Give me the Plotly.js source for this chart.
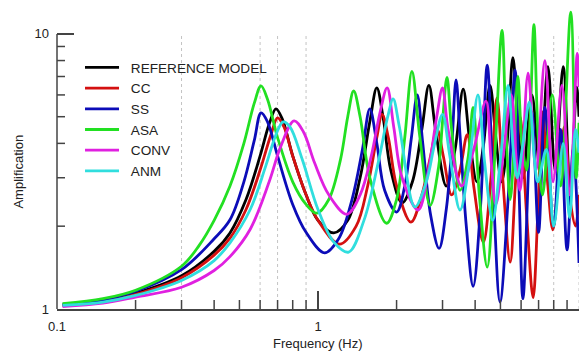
<!DOCTYPE html>
<html>
<head>
<meta charset="utf-8">
<script src="https://cdn.plot.ly/plotly-3.0.1.min.js"></script>
<style>html,body{margin:0;padding:0;background:#fff;}#chart{width:586px;height:352px;}</style>
</head>
<body>
<div id="chart"></div>
<script>
// Series names
const seriesNames = ['REFERENCE MODEL', 'CC', 'SS', 'ASA', 'CONV', 'ANM'];

// REFERENCE MODEL
const fBlack = [0.105,0.15,0.2,0.3,0.4,0.46,0.53,0.6,0.65,0.69,0.73,0.8,0.9,1.0,1.15,1.3,1.45,1.58,1.68,1.78,1.9,2.1,2.3,2.5,2.66,2.82,3.1,3.35,3.6,3.8,4.06,4.3,4.56,4.8,5.05,5.3,5.58,5.85,6.1,6.6,7.1,7.6,8.1,8.7,9.25,9.8,10];
const aBlack = [1.03,1.07,1.14,1.32,1.62,1.89,2.5,3.6,4.7,5.34,4.9,3.6,2.6,2.1,1.89,2.1,3.0,4.8,6.36,4.9,3.2,2.43,2.9,4.5,6.5,4.5,2.8,3.8,6.3,4.2,2.9,3.9,6.5,4.2,2.9,4.0,8.2,4.5,3.0,6.0,3.2,7.6,3.2,7.6,2.7,6.4,5.0];

// CC
const fRed = [0.105,0.15,0.2,0.3,0.4,0.46,0.53,0.6,0.66,0.70,0.74,0.8,0.9,1.0,1.21,1.4,1.55,1.68,1.76,1.86,2.0,2.27,2.5,2.7,2.86,3.02,3.25,3.5,3.73,3.95,4.3,4.6,4.85,5.1,5.45,5.7,5.95,6.3,6.67,6.95,7.25,7.6,7.94,8.4,8.8,9.3,9.7,10];
const aRed = [1.03,1.065,1.13,1.30,1.57,1.81,2.3,3.2,4.3,4.95,4.6,3.6,2.6,2.1,1.72,2.0,2.8,4.2,5.1,4.2,2.8,2.07,2.6,3.6,4.5,3.6,2.6,3.2,4.3,2.8,1.75,3.0,5.85,3.0,1.48,2.8,5.0,2.2,1.1,2.2,5.2,2.8,1.94,3.2,4.6,2.4,2.0,2.6];

// SS
const fBlue = [0.105,0.15,0.2,0.3,0.4,0.46,0.52,0.57,0.605,0.64,0.7,0.8,0.9,1.06,1.2,1.35,1.48,1.58,1.68,1.8,2.0,2.15,2.28,2.4,2.52,2.7,2.91,3.1,3.25,3.38,3.5,3.7,3.93,4.2,4.45,4.7,4.98,5.35,5.69,5.9,6.1,6.6,7.0,7.4,8.0,8.5,9.0,9.5,10];
const aBlue = [1.04,1.08,1.16,1.39,1.8,2.11,2.9,4.1,5.16,4.8,3.6,2.4,1.9,1.6,1.8,2.5,3.8,5.34,4.0,2.7,2.25,2.8,4.2,6.0,4.0,2.2,1.66,2.3,3.8,6.8,4.3,2.0,1.21,2.4,7.7,2.6,1.06,2.5,7.4,2.6,1.09,5.2,1.9,5.4,2.0,4.5,1.64,3.8,1.47];

// ASA
const fGreen = [0.105,0.15,0.2,0.3,0.35,0.4,0.46,0.52,0.57,0.605,0.64,0.7,0.8,0.9,0.99,1.1,1.22,1.3,1.37,1.45,1.58,1.83,2.0,2.15,2.29,2.45,2.69,2.9,3.0,3.12,3.25,3.5,3.75,3.93,4.15,4.45,4.75,5.07,5.25,5.45,5.65,5.83,6.05,6.3,6.5,6.72,6.95,7.25,7.9,8.5,9.3,9.75,10];
const aGreen = [1.045,1.09,1.17,1.43,1.7,2.1,2.8,4.0,5.6,6.47,5.8,4.2,2.9,2.4,2.23,2.5,3.5,5.0,6.2,5.0,3.0,2.05,2.5,4.2,7.3,4.3,2.38,3.3,4.8,6.95,4.5,2.7,3.5,5.4,2.6,1.42,3.5,10.3,4.5,2.5,4.0,7.0,4.0,3.2,5.0,10.8,4.5,2.6,6.0,2.8,12.0,3.0,4.75];

// CONV
const fMag = [0.105,0.15,0.2,0.3,0.4,0.46,0.55,0.65,0.72,0.81,0.88,0.97,1.1,1.29,1.45,1.6,1.73,1.84,1.95,2.1,2.42,2.65,2.85,3.0,3.15,3.55,3.95,4.4,4.6,4.8,5.1,5.5,5.75,5.95,6.38,6.85,7.4,7.95,8.6,9.2,9.85,10];
const aMag = [1.02,1.05,1.105,1.2,1.38,1.55,1.95,2.9,3.9,4.83,4.4,3.4,2.6,2.21,2.6,3.6,5.2,6.36,4.6,3.0,2.29,3.2,5.0,6.36,4.5,2.8,3.8,5.7,3.5,2.4,3.5,6.0,3.5,2.7,7.2,3.2,8.0,2.9,6.5,2.6,8.5,6.4];

// ANM
const fCyan = [0.105,0.15,0.2,0.3,0.4,0.46,0.55,0.63,0.69,0.735,0.78,0.87,1.0,1.15,1.31,1.5,1.7,1.85,1.94,2.05,2.35,2.6,2.8,3.0,3.2,3.5,3.8,4.1,4.35,4.67,5.0,5.35,5.6,5.8,6.1,6.45,6.75,6.95,7.5,8.0,8.7,9.2,9.7,10];
const aCyan = [1.03,1.06,1.12,1.27,1.5,1.74,2.3,3.3,4.3,4.79,4.6,3.5,2.3,1.75,1.61,2.1,3.4,5.0,5.8,4.6,2.35,2.9,4.0,5.1,3.6,2.29,3.4,6.0,3.4,2.1,3.5,6.5,3.8,3.0,4.0,5.65,3.5,2.9,3.8,2.0,4.0,2.15,4.5,3.7];

// Tick labels / grid
const xTickVals = [0.1, 1, 10];
const xTickText = ['0.1', '1', '10'];
const xMinorVals = [0.2,0.3,0.4,0.5,0.6,0.7,0.8,0.9,2,3,4,5,6,7,8,9];
const yTickVals = [1, 10];
const yTickText = ['1', '10'];
const yMinorVals = [2,3,4,5,6,7,8,9];
const gridFreqs = [0.3, 0.6, 0.7, 0.9, 8, 10];

const colors = ['#000000', '#d41010', '#0c0cb8', '#22e022', '#e020e0', '#30dede'];
const xs = [fBlack, fRed, fBlue, fGreen, fMag, fCyan];
const ys = [aBlack, aRed, aBlue, aGreen, aMag, aCyan];

const FONT = 'Arial, "Liberation Sans", sans-serif';
const AX = '#444';

const traces = seriesNames.map((name, i) => ({
  type: 'scatter', mode: 'lines', name: '\u2002' + name,
  x: xs[i], y: ys[i],
  line: {color: colors[i], width: 2.8, shape: 'spline', smoothing: 1}
}));

// Plotly v3: shape coordinates on log axes are data values
const shapes = [];
gridFreqs.forEach(f => {
  shapes.push({type: 'line', layer: 'below', xref: 'x', yref: 'y',
    x0: f, x1: f, y0: 1, y1: 10,
    line: {color: '#c4c4c4', width: 1, dash: 'dot'}});
});
// y axis spine from 1 to 10
shapes.push({type: 'line', xref: 'paper', yref: 'y', x0: 0, x1: 0, y0: 1, y1: 10,
  line: {color: AX, width: 1.5}});
// minor tick marks (inside)
xMinorVals.forEach(v => {
  shapes.push({type: 'line', xref: 'x', yref: 'paper', x0: v, x1: v,
    y0: 0, y1: 9 / 304, line: {color: AX, width: 1.5}});
});
yMinorVals.forEach(v => {
  shapes.push({type: 'line', xref: 'paper', yref: 'y', x0: 0, x1: 8 / 522,
    y0: v, y1: v, line: {color: AX, width: 1.5}});
});

const layout = {
  width: 586, height: 352,
  margin: {l: 57, r: 7, t: 5, b: 43},
  paper_bgcolor: '#ffffff', plot_bgcolor: '#ffffff',
  font: {family: FONT, color: '#222', size: 13},
  showlegend: true,
  legend: {x: 0.0441, y: 0.845, xanchor: 'left', yanchor: 'top',
    bgcolor: 'rgba(0,0,0,0)', font: {family: FONT, size: 13.6, color: '#222'},
    itemwidth: 34, tracegroupgap: 0},
  xaxis: {type: 'log', range: [-1, 1], showgrid: false, zeroline: false,
    showline: true, linecolor: AX, linewidth: 1.5,
    tickmode: 'array', tickvals: xTickVals, ticktext: xTickText,
    ticks: 'inside', ticklen: 18, tickwidth: 1.5, tickcolor: AX,
    tickfont: {family: FONT, size: 13, color: '#222'},
    ticklabelstandoff: 5,
    fixedrange: true},
  yaxis: {type: 'log', range: [0, 1.105], showgrid: false, zeroline: false,
    showline: false,
    tickmode: 'array', tickvals: yTickVals, ticktext: yTickText,
    ticks: 'inside', ticklen: 17, tickwidth: 1.5, tickcolor: AX,
    tickfont: {family: FONT, size: 13, color: '#222'},
    ticklabelstandoff: 7,
    fixedrange: true},
  shapes: shapes,
  annotations: [
    {text: 'Frequency (Hz)', xref: 'paper', yref: 'paper', x: 0.5, y: -0.112,
      xanchor: 'center', yanchor: 'middle', showarrow: false,
      font: {family: FONT, size: 13, color: '#222'}},
    {text: 'Amplification', xref: 'paper', yref: 'paper', x: -0.0728, y: 0.452,
      xanchor: 'center', yanchor: 'middle', showarrow: false, textangle: -90,
      font: {family: FONT, size: 13, color: '#222'}}
  ]
};

Plotly.newPlot('chart', traces, layout, {staticPlot: true, displayModeBar: false});
</script>
</body>
</html>
